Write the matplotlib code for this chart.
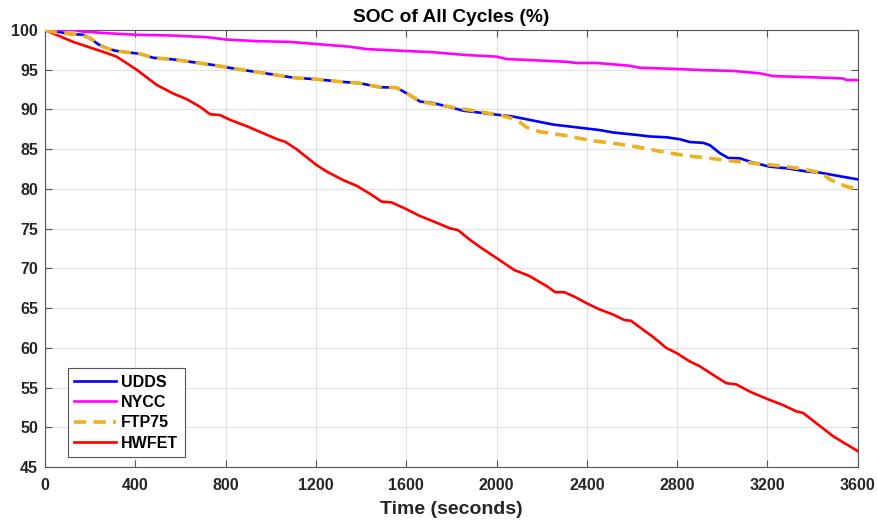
import matplotlib
matplotlib.use('Agg')
import matplotlib.pyplot as plt

plt.rcParams['font.family'] = ['Liberation Sans', 'DejaVu Sans']

# values
t_hwfet = [0, 66, 125, 199, 273, 317, 406, 494, 568, 627, 686, 731, 775, 819, 893, 967, 1033, 1063,
           1114, 1203, 1247, 1321, 1380, 1439, 1491, 1535, 1601, 1660, 1734, 1793, 1830, 1882, 1926,
           2000, 2078, 2145, 2226, 2260, 2300, 2344, 2400, 2455, 2515, 2566, 2596, 2648, 2692, 2751,
           2800, 2855, 2899, 2959, 3018, 3062, 3121, 3200, 3269, 3328, 3358, 3417, 3492, 3600]
soc_hwfet = [100, 99.2, 98.5, 97.8, 97.1, 96.65, 95.0, 93.1, 92.0, 91.3, 90.35, 89.4, 89.3, 88.7,
             87.9, 87.0, 86.2, 85.95, 85.0, 83.0, 82.2, 81.1, 80.4, 79.4, 78.4, 78.3, 77.45, 76.6,
             75.75, 75.05, 74.8, 73.6, 72.7, 71.3, 69.8, 69.05, 67.7, 67.0, 67.0, 66.45, 65.6, 64.85,
             64.2, 63.5, 63.4, 62.3, 61.4, 60.0, 59.3, 58.3, 57.7, 56.6, 55.55, 55.4, 54.5, 53.55,
             52.8, 52.0, 51.8, 50.5, 48.85, 47.0]

t_udds = [0, 52, 111, 170, 199, 236, 273, 310, 362, 421, 480, 568, 642, 745, 804, 893, 1011, 1100,
          1203, 1306, 1395, 1483, 1557, 1616, 1661, 1720, 1793, 1852, 1926, 2000, 2074, 2162, 2251,
          2340, 2400, 2458, 2517, 2620, 2679, 2753, 2812, 2856, 2915, 2945, 2989, 3026, 3078, 3137,
          3210, 3284, 3373, 3432, 3520, 3600]
soc_udds = [100, 99.8, 99.5, 99.4, 98.95, 98.2, 97.7, 97.4, 97.2, 97.0, 96.5, 96.3, 96.0, 95.6, 95.3,
            94.9, 94.4, 94.0, 93.8, 93.5, 93.3, 92.8, 92.75, 91.8, 91.0, 90.8, 90.3, 89.85, 89.6,
            89.35, 89.1, 88.6, 88.1, 87.8, 87.6, 87.4, 87.1, 86.8, 86.6, 86.5, 86.25, 85.9, 85.8,
            85.5, 84.5, 83.9, 83.85, 83.3, 82.8, 82.6, 82.2, 82.05, 81.6, 81.2]

t_ftp75 = [0, 60, 150, 199, 236, 273, 310, 362, 421, 480, 568, 642, 745, 804, 893, 1011, 1100, 1203,
           1306, 1395, 1483, 1557, 1616, 1661, 1779, 1897, 2015, 2089, 2133, 2192, 2310, 2413, 2517,
           2620, 2731, 2834, 2945, 3048, 3152, 3255, 3358, 3439, 3476, 3550, 3600]
soc_ftp75 = [100, 99.6, 99.45, 99.0, 98.2, 97.7, 97.4, 97.2, 97.0, 96.5, 96.3, 96.0, 95.6, 95.3, 94.9,
             94.4, 94.0, 93.8, 93.5, 93.3, 92.8, 92.75, 91.8, 91.0, 90.4, 89.85, 89.3, 88.7, 87.75,
             87.2, 86.7, 86.1, 85.75, 85.3, 84.7, 84.2, 83.85, 83.5, 83.2, 82.9, 82.5, 82.0, 81.2,
             80.3, 80.0]

t_nycc = [0, 125, 170, 273, 406, 568, 716, 804, 937, 1085, 1218, 1350, 1424, 1572, 1720, 1867, 2000,
          2044, 2162, 2310, 2354, 2443, 2590, 2635, 2797, 2915, 3048, 3166, 3225, 3402, 3535, 3550, 3600]
soc_nycc = [100, 100, 99.8, 99.6, 99.4, 99.3, 99.1, 98.8, 98.6, 98.5, 98.2, 97.9, 97.6, 97.4, 97.2,
            96.85, 96.65, 96.35, 96.2, 96.0, 95.85, 95.85, 95.5, 95.25, 95.1, 94.95, 94.85, 94.55, 94.2,
            94.05, 93.9, 93.7, 93.7]

fig = plt.figure(figsize=(8.78, 5.21), dpi=100)
ax = fig.add_axes([0.0513, 0.1036, 0.9257, 0.8388])

ax.plot(t_udds, soc_udds, color=(0, 0, 1), lw=1.9, label='UDDS', zorder=3)
ax.plot(t_nycc, soc_nycc, color=(1, 0, 1), lw=1.9, label='NYCC', zorder=3)
ax.plot(t_ftp75, soc_ftp75, color='#EDB120', lw=2.6, ls=(0, (3.4, 2.0)), label='FTP75', zorder=4)
ax.plot(t_hwfet, soc_hwfet, color=(1, 0, 0), lw=1.9, label='HWFET', zorder=3)

ax.set_xlim(0, 3600)
ax.set_ylim(45, 100)
ax.set_xticks(range(0, 3601, 400))
ax.set_yticks(range(45, 101, 5))
ax.grid(True, color='#262626', alpha=0.13, lw=0.8)
ax.tick_params(direction='in', top=True, right=True, length=5, width=0.8, colors='#555555',
               labelcolor='#262626', labelsize=11.5)
ax.tick_params(axis='x', pad=8)
ax.tick_params(axis='y', pad=5)
for lab in ax.get_xticklabels() + ax.get_yticklabels():
    lab.set_fontweight('bold')
for s in ax.spines.values():
    s.set_color('#555555')
    s.set_linewidth(0.8)

ax.set_title('SOC of All Cycles (%)', fontsize=13.8, fontweight='bold', color='black', pad=6)
ax.set_xlabel('Time (seconds)', fontsize=14, fontweight='bold', color='#262626', labelpad=6)

leg = ax.legend(loc='lower left', bbox_to_anchor=(0.028, 0.023), fancybox=False, framealpha=1,
                edgecolor='#555555', prop={'weight': 'bold', 'size': 11.5}, handlelength=2.6,
                handletextpad=0.35, borderpad=0.4, labelspacing=0.33, borderaxespad=0)
leg.get_frame().set_linewidth(0.8)

fig.savefig('out.png', dpi=100)
